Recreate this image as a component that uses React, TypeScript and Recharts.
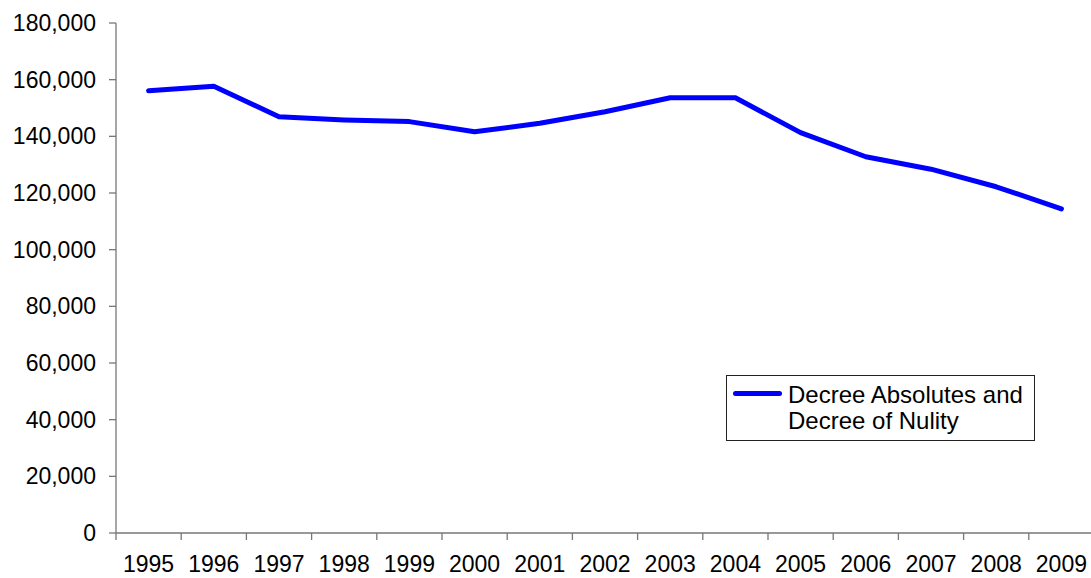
import React from 'react';
import { LineChart, Line, XAxis, YAxis, Legend } from 'recharts';

const years = ['1995', '1996', '1997', '1998', '1999', '2000', '2001', '2002', '2003', '2004', '2005', '2006', '2007', '2008', '2009'];
const decreeValues = [156100, 157700, 146900, 145800, 145200, 141600, 144600, 148700, 153600, 153600, 141300, 132800, 128400, 122200, 114400];
const yTicks = [0, 20000, 40000, 60000, 80000, 100000, 120000, 140000, 160000, 180000];
const seriesName = 'Decree Absolutes and\nDecree of Nulity';

const data = years.map((y, i) => ({ idx: i, year: y, value: decreeValues[i] }));
const xTicks: number[] = [];
for (let i = 0; i < years.length; i++) {
  xTicks.push(i - 0.5);
  xTicks.push(i);
}
xTicks.push(years.length - 0.5);

const FONT = '"Liberation Sans", Arial, sans-serif';
const FS = 23;
const AXIS_COLOR = '#777777';
const X_TICK_SIZE = 7;
const X_TICK_MARGIN = 16;

const XTick = (props: any) => {
  const { x, y, payload } = props;
  const v = payload.value as number;
  if (Number.isInteger(v)) {
    return (
      <text x={x} y={y} dy="0.71em" textAnchor="middle" fill="#000" fontSize={FS} fontFamily={FONT}>
        {years[v]}
      </text>
    );
  }
  const axisY = y - X_TICK_SIZE - X_TICK_MARGIN;
  return <line x1={x} x2={x} y1={axisY} y2={axisY + X_TICK_SIZE} stroke={AXIS_COLOR} strokeWidth={1.3} />;
};

const LegendContent = (props: any) => {
  const { payload } = props;
  return (
    <div
      style={{
        width: 307,
        height: 64,
        border: '1px solid #222',
        background: '#fff',
        position: 'relative',
        fontFamily: FONT,
        fontSize: 24,
        lineHeight: '26px',
        color: '#000',
        boxSizing: 'content-box',
      }}
    >
      {(payload || []).map((p: any, i: number) => (
        <div key={i}>
          <div style={{ position: 'absolute', left: 6, top: 15, width: 49, height: 5, borderRadius: 3, background: p.color }} />
          <div style={{ position: 'absolute', left: 61, top: 6, whiteSpace: 'pre-line', textAlign: 'left' }}>{p.value}</div>
        </div>
      ))}
    </div>
  );
};

export default function App() {
  return (
    <div style={{ position: 'absolute', left: 0, top: 0, width: 1091, height: 578, overflow: 'hidden', background: '#fff' }}>
      <LineChart width={1100} height={578} data={data} margin={{ top: 23, right: 6, bottom: 0, left: 0 }}>
        <XAxis
          dataKey="idx"
          type="number"
          domain={[-0.5, years.length - 0.5]}
          ticks={xTicks}
          interval={0}
          allowDecimals
          height={45}
          tickLine={false}
          tickSize={X_TICK_SIZE}
          tickMargin={X_TICK_MARGIN}
          tick={<XTick />}
          axisLine={{ stroke: AXIS_COLOR, strokeWidth: 1.3 }}
        />
        <YAxis
          width={116}
          domain={[0, 180000]}
          ticks={yTicks}
          interval={0}
          tickSize={7}
          tickMargin={13}
          tickLine={{ stroke: AXIS_COLOR, strokeWidth: 1.3 }}
          axisLine={{ stroke: AXIS_COLOR, strokeWidth: 1.3 }}
          tick={{ fill: '#000', fontSize: FS, fontFamily: FONT }}
          tickFormatter={(v: number) => v.toLocaleString('en-US')}
        />
        <Legend
          layout="horizontal"
          verticalAlign="middle"
          align="center"
          content={<LegendContent />}
          wrapperStyle={{ position: 'absolute', left: 726, top: 375, width: 'auto', height: 'auto' }}
        />
        <Line
          type="linear"
          dataKey="value"
          name={seriesName}
          stroke="#0000FF"
          strokeWidth={5}
          strokeLinecap="round"
          strokeLinejoin="round"
          dot={false}
          activeDot={false}
          isAnimationActive={false}
        />
      </LineChart>
    </div>
  );
}
